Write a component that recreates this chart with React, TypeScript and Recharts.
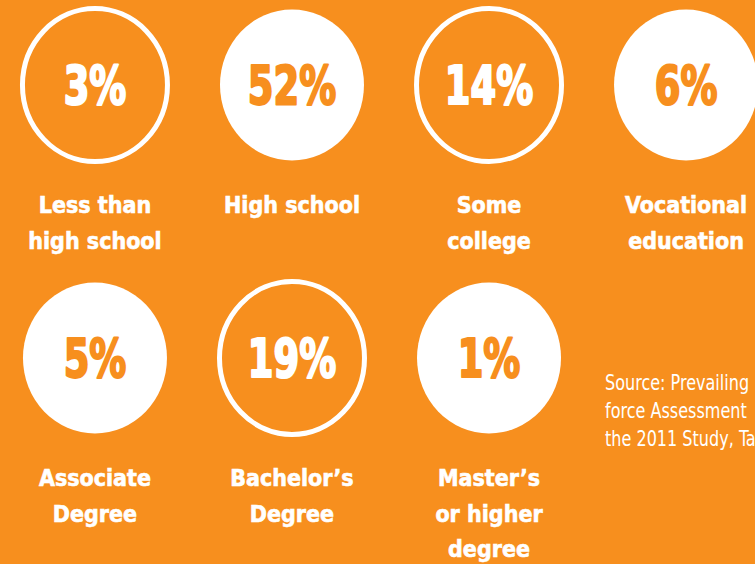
import React from 'react';
import { ScatterChart, Scatter, XAxis, YAxis } from 'recharts';

// Education level breakdown
const categories = [
  'Less than\nhigh school',
  'High school',
  'Some\ncollege',
  'Vocational\neducation',
  'Associate\nDegree',
  'Bachelor’s\nDegree',
  'Master’s\nor higher\ndegree',
];
const values = [3, 52, 14, 6, 5, 19, 1];
const sourceLines = ['Source: Prevailing', 'force Assessment', 'the 2011 Study, Table'];

const ORANGE = '#F78F1E';
const COLS = 4;
const W = 755;
const H = 564;

const points = values.map((v, i) => ({
  col: i % COLS,
  row: Math.floor(i / COLS),
  value: v,
  label: categories[i],
}));

const font = "'DejaVu Sans Condensed', 'DejaVu Sans', sans-serif";

function Badge(props: any) {
  const { cx, cy, payload } = props;
  // checkerboard: alternate outlined / filled rings
  const filled = (payload.col + payload.row) % 2 === 1;
  const ink = filled ? ORANGE : '#fff';
  const lines: string[] = payload.label.split('\n');
  return (
    <g>
      {filled ? (
        <ellipse cx={cx} cy={cy} rx={72} ry={75.5} fill="#fff" />
      ) : (
        <ellipse cx={cx} cy={cy} rx={72.5} ry={76.5} fill="none" stroke="#fff" strokeWidth={5} />
      )}
      {/* squeeze the condensed face more, original numbers are narrow and heavy */}
      <text
        transform={`translate(${cx} ${cy + 18.5}) scale(0.76 1)`}
        textAnchor="middle"
        fontFamily={font}
        fontStretch="condensed"
        fontWeight={700}
        fontSize={54}
        fill={ink}
        stroke={ink}
        strokeWidth={2.2}
        strokeLinejoin="round"
      >
        {payload.value}%
      </text>
      {lines.map((t, k) => (
        <text
          key={k}
          x={cx}
          y={cy + 128 + k * 35.5}
          textAnchor="middle"
          fontFamily={font}
          fontStretch="condensed"
          fontWeight={700}
          fontSize={23}
          fill="#fff"
          stroke="#fff"
          strokeWidth={0.6}
        >
          {t}
        </text>
      ))}
    </g>
  );
}

export default function App() {
  return (
    <div style={{ position: 'fixed', left: 0, top: 0, width: W, height: H, background: ORANGE, overflow: 'hidden' }}>
      <ScatterChart width={W} height={H} margin={{ top: 0, right: 0, bottom: 0, left: 0 }}>
        <XAxis type="number" dataKey="col" domain={[-0.482, 3.35]} hide allowDataOverflow />
        <YAxis type="number" dataKey="row" domain={[-0.3114, 1.7546]} reversed hide allowDataOverflow />
        <Scatter data={points} shape={Badge} isAnimationActive={false} />
        {sourceLines.map((t, k) => (
          <text
            key={k}
            transform={`translate(605 ${390 + k * 28}) scale(0.83 1)`}
            fontFamily={font}
            fontStretch="condensed"
            fontSize={21.5}
            fill="#fff"
          >
            {t}
          </text>
        ))}
      </ScatterChart>
    </div>
  );
}
